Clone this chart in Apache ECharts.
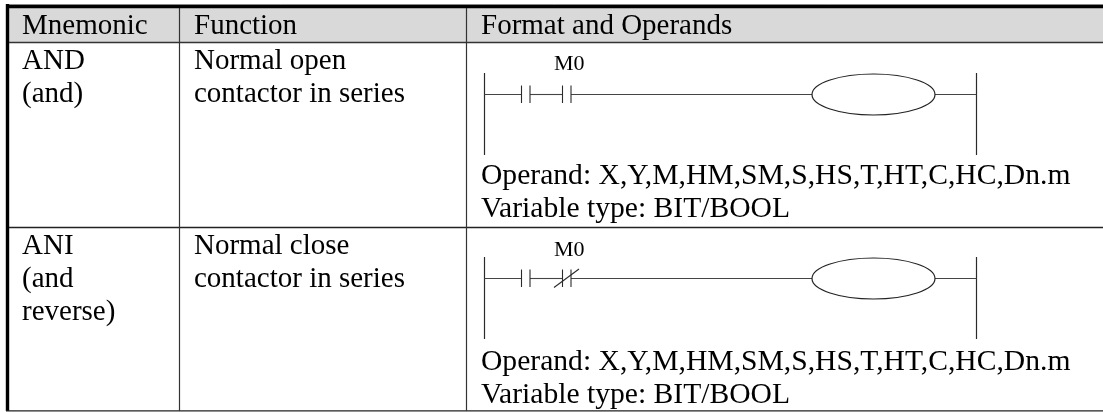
<!DOCTYPE html>
<html><head><meta charset="utf-8">
<style>html,body{margin:0;padding:0;background:#fff}#c{width:1103px;height:412px}</style>
<script src="https://cdn.jsdelivr.net/npm/echarts@6/dist/echarts.min.js"></script>
</head><body><div id="c"></div>
<script>
const headers = ['Mnemonic', 'Function', 'Format and Operands'];
const mnemonicRow1 = ['AND', '(and)'];
const mnemonicRow2 = ['ANI', '(and', 'reverse)'];
const functionRow1 = ['Normal open', 'contactor in series'];
const functionRow2 = ['Normal close', 'contactor in series'];
const contactLabel = 'M0';
const operandLines = ['Operand: X,Y,M,HM,SM,S,HS,T,HT,C,HC,Dn.m', 'Variable type: BIT/BOOL'];

const W = 1103, H = 412;
const FONT = '"Liberation Serif","Times New Roman",serif';
const SIZE = 29, SMALL = 22, OPSIZE = 29.6, LINE = '#2a2a2a';
const colX = [179, 466], textX = [22, 194, 481];
const marks = [];
const seg = (x1, y1, x2, y2, w, c) => marks.push({ k: 'l', x1, y1, x2, y2, w: w || 1.2, c: c || LINE });
const txt = (s, x, y, size) => marks.push({ k: 't', s, x, y, size: size || SIZE });

marks.push({ k: 'r', x: 6, y: 8, w: W - 6, h: 34, c: '#d9d9d9' });
seg(6, 4.5, W, 4.5, 1, '#b5b5b5');
seg(6, 6.5, W, 6.5, 3.4, '#000');
seg(7.5, 4, 7.5, 411, 3.4, '#000');
seg(9, 42.5, W, 42.5, 1.3, '#333');
seg(9, 227.5, W, 227.5, 1.3, '#222');
seg(6, 410.8, W, 410.8, 1.3, '#222');
colX.forEach(x => seg(x + .5, 8, x + .5, 411, 1.2, '#333'));

headers.forEach((s, i) => txt(s, textX[i], 35));
[[mnemonicRow1, functionRow1, 70, 185], [mnemonicRow2, functionRow2, 255.5, 371]].forEach(([m, f, b, o]) => {
  m.forEach((s, i) => txt(s, textX[0], b + i * 33));
  f.forEach((s, i) => txt(s, textX[1], b + i * 33));
  operandLines.forEach((s, i) => txt(s, textX[2], o + i * 33, OPSIZE));
});

[[94.5, 70.5, false], [278.5, 256.5, true]].forEach(([y, lab, closed]) => {
  const top = y - 21.5, bot = y + 60.5;
  seg(484.5, top, 484.5, bot, 1.2);
  seg(976.5, top, 976.5, bot, 1.2);
  seg(484.5, y, 521, y, 1.1, '#444');
  seg(530, y, 562, y, 1.1, '#444');
  seg(571, y, 812, y, 1.1, '#444');
  seg(935, y, 976.5, y, 1.1, '#444');
  [521.5, 530, 562.5, 571].forEach(x => seg(x, y - 9, x, y + 8.5, 1.1));
  if (closed) seg(554, y + 9, 579, y - 9.5, 1.1);
  marks.push({ k: 'e', cx: 873.5, cy: y, rx: 61.5, ry: 20.5 });
  txt(contactLabel, 554, lab, SMALL);
});

const renderItem = (p, api) => {
  const m = marks[api.value(0)];
  if (m.k === 'l') {
    const a = api.coord([m.x1, m.y1]), b = api.coord([m.x2, m.y2]);
    return { type: 'line', shape: { x1: a[0], y1: a[1], x2: b[0], y2: b[1] }, style: { stroke: m.c, lineWidth: m.w, fill: null } };
  }
  if (m.k === 'r') {
    const a = api.coord([m.x, m.y]), b = api.coord([m.x + m.w, m.y + m.h]);
    return { type: 'rect', shape: { x: a[0], y: a[1], width: b[0] - a[0], height: b[1] - a[1] }, style: { fill: m.c } };
  }
  if (m.k === 'e') {
    const a = api.coord([m.cx, m.cy]);
    return { type: 'ellipse', shape: { cx: a[0], cy: a[1], rx: m.rx, ry: m.ry }, style: { stroke: '#222', lineWidth: 1.2, fill: '#fff' } };
  }
  const a = api.coord([m.x, m.y]);
  return { type: 'text', x: a[0], y: a[1] - m.size * 0.8, style: { text: m.s, fill: '#000', font: m.size + 'px ' + FONT, textAlign: 'left', textVerticalAlign: 'top' } };
};

const chart = echarts.init(document.getElementById('c'), null, { renderer: 'canvas' });
chart.setOption({
  animation: false, backgroundColor: '#fff',
  grid: { left: 0, right: 0, top: 0, bottom: 0 },
  xAxis: { type: 'value', min: 0, max: W, show: false },
  yAxis: { type: 'value', min: 0, max: H, inverse: true, show: false },
  series: [{ type: 'custom', coordinateSystem: 'cartesian2d', clip: false, silent: true,
    data: marks.map((m, i) => [i]), encode: { x: [], y: [] }, renderItem }]
});
</script></body></html>
